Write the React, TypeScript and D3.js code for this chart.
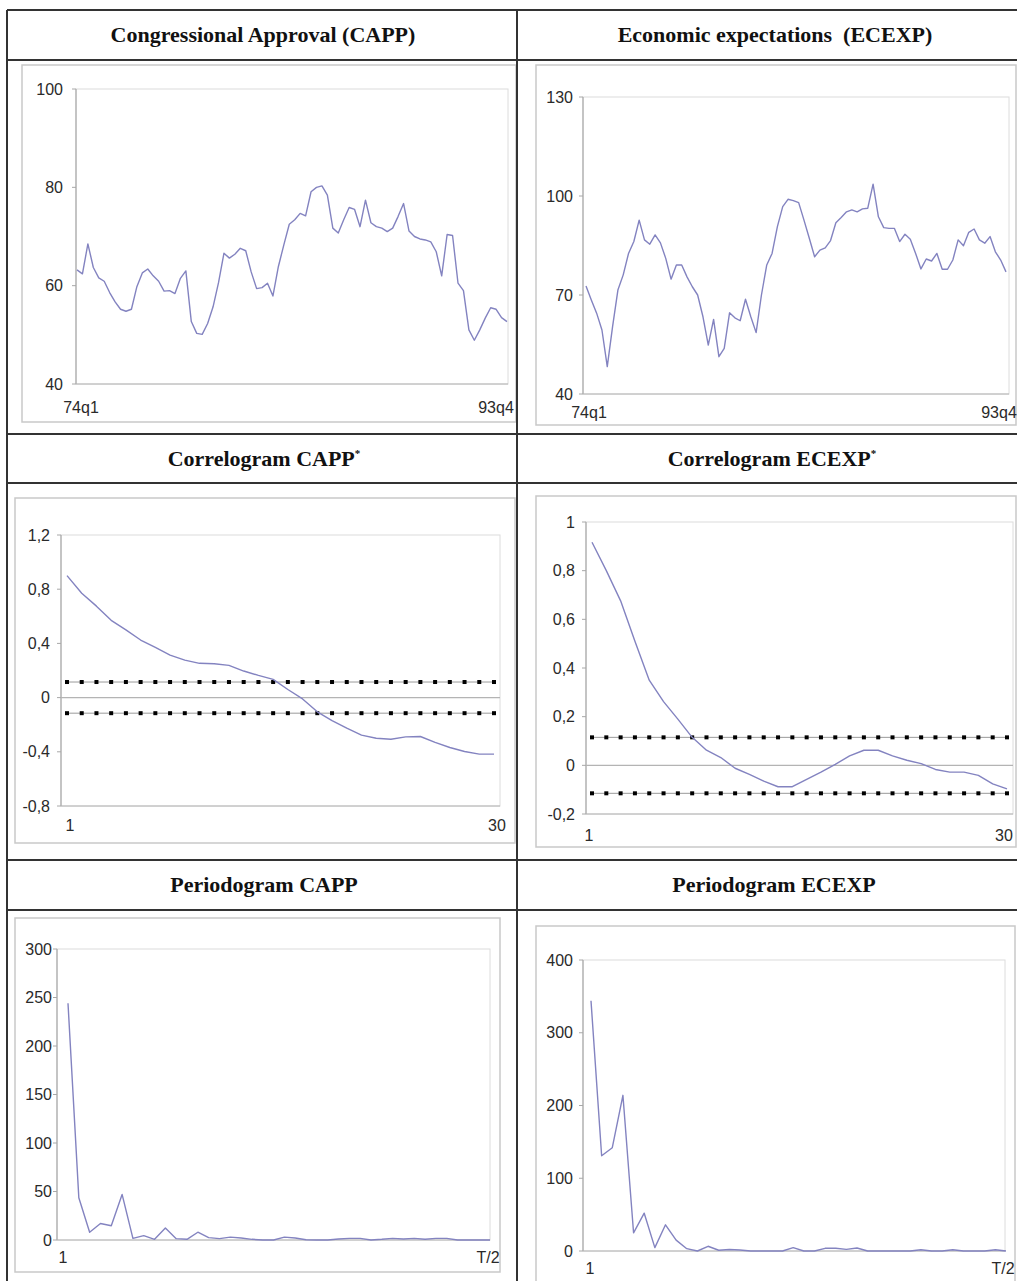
import React from "react";
import * as d3 from "d3";

// ---------- DATA ----------
const seriesXLabels = ["74q1", "93q4"];
const lagXLabels = ["1", "30"];
const freqXLabels = ["1", "T/2"];

const titleCapp = "Congressional Approval (CAPP)";
const titleEcexp = "Economic expectations  (ECEXP)";
const titleCorrCapp = "Correlogram CAPP";
const titleCorrEcexp = "Correlogram ECEXP";
const titlePerCapp = "Periodogram CAPP";
const titlePerEcexp = "Periodogram ECEXP";

const cappSeries = [
  63.2, 62.4, 68.5, 63.7, 61.6, 60.9, 58.6, 56.7, 55.2, 54.8,
  55.2, 59.8, 62.6, 63.4, 62.0, 60.9, 58.9, 59.0, 58.4, 61.5,
  63.0, 52.7, 50.3, 50.1, 52.3, 55.7, 60.6, 66.6, 65.6, 66.4,
  67.6, 67.1, 62.8, 59.4, 59.6, 60.5, 57.9, 63.9, 68.3, 72.5,
  73.4, 74.7, 74.2, 79.1, 80.0, 80.3, 78.4, 71.7, 70.7, 73.4,
  75.9, 75.5, 72.0, 77.4, 72.8, 72.0, 71.7, 71.0, 71.7, 74.1,
  76.7, 71.1, 70.0, 69.5, 69.3, 68.9, 66.9, 62.0, 70.4, 70.2,
  60.5, 59.0, 51.0, 48.9, 51.0, 53.4, 55.5, 55.2, 53.5, 52.7,
];

const ecexpSeries = [
  72.7, 68.5, 64.5, 59.4, 48.3, 60.4, 71.5, 76.1, 82.6, 86.2,
  92.7, 86.7, 85.4, 88.2, 85.8, 81.1, 74.8, 79.1, 79.1, 75.5,
  72.5, 70.0, 63.4, 54.8, 62.6, 51.3, 53.8, 64.6, 63.1, 62.2,
  68.7, 63.4, 58.6, 70.0, 79.1, 82.6, 90.7, 96.8, 99.0, 98.6,
  98.0, 92.7, 87.2, 81.6, 83.6, 84.3, 86.5, 91.9, 93.5, 95.2,
  95.8, 95.2, 96.1, 96.3, 103.6, 93.7, 90.4, 90.2, 90.2, 86.2,
  88.4, 86.9, 82.6, 77.9, 80.9, 80.3, 82.6, 77.8, 77.8, 80.6,
  86.7, 84.9, 89.0, 90.0, 86.7, 85.7, 87.7, 83.1, 80.6, 77.0,
];

const cappAcf = [
  0.9, 0.77, 0.675, 0.57, 0.5, 0.425, 0.37, 0.314, 0.277, 0.253,
  0.25, 0.238, 0.196, 0.164, 0.135, 0.06, -0.01, -0.105, -0.17, -0.226,
  -0.277, -0.3, -0.307, -0.29, -0.287, -0.331, -0.368, -0.398, -0.417, -0.417,
];

const ecexpAcf = [
  0.917, 0.8, 0.676, 0.51, 0.35, 0.262, 0.19, 0.115, 0.062, 0.032,
  -0.012, -0.037, -0.065, -0.088, -0.088, -0.058, -0.028, 0.004, 0.039, 0.062,
  0.062, 0.039, 0.021, 0.007, -0.017, -0.028, -0.028, -0.041, -0.076, -0.097,
];

const cappPeriodogram = [
  244, 43.5, 8, 17, 14.7, 47, 1.7, 4.5, 0.7, 12.3,
  1.4, 0.7, 8, 2.4, 1.4, 3, 2, 0.7, 0, 0,
  3, 2, 0.3, 0, 0, 1, 1.7, 1.7, 0, 0.7,
  1.7, 1, 1.7, 0.7, 1.7, 1.7, 0, 0, 0, 0,
];

const ecexpPeriodogram = [
  344, 131, 142, 214, 25, 52, 4.6, 36, 15, 3.2,
  0, 6.5, 1, 2, 1.4, 0, 0, 0, 0, 4.6,
  0, 0, 3.7, 3.7, 2.3, 4.1, 0, 0, 0, 0,
  0, 1.8, 0, 0, 1.8, 0, 0, 0, 1.8, 0,
];

const cappSeriesTicks = [40, 60, 80, 100];
const ecexpSeriesTicks = [40, 70, 100, 130];
const cappAcfTicks = [-0.8, -0.4, 0, 0.4, 0.8, 1.2];
const ecexpAcfTicks = [-0.2, 0, 0.2, 0.4, 0.6, 0.8, 1];
const cappPerTicks = [0, 50, 100, 150, 200, 250, 300];
const ecexpPerTicks = [0, 100, 200, 300, 400];
const acfBand = [0.115, -0.115];

// ---------- STYLE ----------
const LINE_COLOR = "#8383c0";
const LABEL_FONT = "'Liberation Sans', Arial, sans-serif";
const TITLE_FONT = "'Liberation Serif', 'Times New Roman', serif";

const locale = d3.formatLocale({
  decimal: ",",
  thousands: ".",
  grouping: [3],
  currency: ["", ""],
  minus: "-",
});
const fmtComma = locale.format("");
const fmtInt = d3.format("d");

type Cfg = {
  frame: [number, number, number, number];
  plot: { left: number; right: number; top: number; bottom: number };
  dataX: [number, number];
  yDomain: [number, number];
  ticks: number[];
  fmt: (v: number) => string;
  data: number[];
  xLabels: string[];
  xLabelPos: [number, number];
  xLabelY: number;
  labelGap: number;
  band?: number[];
  zero?: boolean;
};

function Panel({ cfg }: { cfg: Cfg }) {
  const { frame, plot, dataX, yDomain, ticks, fmt, data, xLabels, xLabelPos, xLabelY, labelGap, band, zero } = cfg;
  const y = d3.scaleLinear().domain(yDomain).range([plot.bottom, plot.top]);
  const x = d3.scaleLinear().domain([0, data.length - 1]).range(dataX);
  const line = d3
    .line<number>()
    .x((_, i) => x(i))
    .y((d) => y(d));
  return (
    <g>
      <rect
        x={frame[0]}
        y={frame[1]}
        width={frame[2] - frame[0]}
        height={frame[3] - frame[1]}
        fill="#fff"
        stroke="#c9c9c9"
        strokeWidth={1.5}
      />
      <rect
        x={plot.left}
        y={plot.top}
        width={plot.right - plot.left}
        height={plot.bottom - plot.top}
        fill="none"
        stroke="#dcdcdc"
        strokeWidth={1}
      />
      <line x1={plot.left} x2={plot.left} y1={plot.top} y2={plot.bottom} stroke="#a8a8a8" strokeWidth={1.2} />
      <line x1={plot.left} x2={plot.right} y1={plot.bottom} y2={plot.bottom} stroke="#b4b4b4" strokeWidth={1.2} />
      {zero && (
        <line x1={plot.left} x2={plot.right} y1={y(0)} y2={y(0)} stroke="#b4b4b4" strokeWidth={1.2} />
      )}
      {ticks.map((t) => (
        <g key={t}>
          <line x1={plot.left - 4} x2={plot.left} y1={y(t)} y2={y(t)} stroke="#a8a8a8" strokeWidth={1} />
          <text
            x={plot.left - labelGap}
            y={y(t)}
            dy="0.35em"
            textAnchor="end"
            fontFamily={LABEL_FONT}
            fontSize={16}
            fill="#2a2a2a"
          >
            {fmt(t)}
          </text>
        </g>
      ))}
      {band &&
        band.map((b) => (
          <g key={"b" + b}>
            <line x1={x(0)} x2={x(data.length - 1)} y1={y(b)} y2={y(b)} stroke="#9a9a9a" strokeWidth={1} />
            {data.map((_, i) => (
              <rect key={i} x={x(i) - 2} y={y(b) - 2} width={4} height={4} fill="#000" />
            ))}
          </g>
        ))}
      <path d={line(data) || ""} fill="none" stroke={LINE_COLOR} strokeWidth={1.4} strokeLinejoin="round" />
      <text x={xLabelPos[0]} y={xLabelY} dy="0.35em" textAnchor="middle" fontFamily={LABEL_FONT} fontSize={16} fill="#2a2a2a">
        {xLabels[0]}
      </text>
      <text x={xLabelPos[1]} y={xLabelY} dy="0.35em" textAnchor="middle" fontFamily={LABEL_FONT} fontSize={16} fill="#2a2a2a">
        {xLabels[1]}
      </text>
    </g>
  );
}

function Title({ x, y, text, star }: { x: number; y: number; text: string; star?: boolean }) {
  return (
    <text
      x={x}
      y={y}
      dy="0.35em"
      textAnchor="middle"
      fontFamily={TITLE_FONT}
      fontWeight="bold"
      fontSize={22}
      fill="#111"
      style={{ whiteSpace: "pre" }}
    >
      {text}
      {star && (
        <tspan fontSize={11} dy="-9">
          *
        </tspan>
      )}
    </text>
  );
}

export default function App() {
  const W = 1017;
  const H = 1281;

  const panels: Cfg[] = [
    {
      frame: [22, 65, 516, 422],
      plot: { left: 76, right: 508, top: 89, bottom: 384 },
      dataX: [77, 507],
      yDomain: [40, 100],
      ticks: cappSeriesTicks,
      fmt: fmtInt,
      data: cappSeries,
      xLabels: seriesXLabels,
      xLabelPos: [81, 496],
      xLabelY: 407,
      labelGap: 13,
    },
    {
      frame: [536, 65, 1016, 425],
      plot: { left: 583, right: 1009, top: 97, bottom: 394 },
      dataX: [586, 1006],
      yDomain: [40, 130],
      ticks: ecexpSeriesTicks,
      fmt: fmtInt,
      data: ecexpSeries,
      xLabels: seriesXLabels,
      xLabelPos: [589, 999],
      xLabelY: 412,
      labelGap: 10,
    },
    {
      frame: [15, 498, 515, 843],
      plot: { left: 61, right: 500, top: 535, bottom: 806 },
      dataX: [67, 494],
      yDomain: [-0.8, 1.2],
      ticks: cappAcfTicks,
      fmt: (v) => fmtComma(v),
      data: cappAcf,
      xLabels: lagXLabels,
      xLabelPos: [70, 497],
      xLabelY: 825,
      labelGap: 11,
      band: acfBand,
      zero: true,
    },
    {
      frame: [536, 496, 1016, 847],
      plot: { left: 586, right: 1013, top: 522, bottom: 814 },
      dataX: [592, 1007],
      yDomain: [-0.2, 1],
      ticks: ecexpAcfTicks,
      fmt: (v) => fmtComma(v),
      data: ecexpAcf,
      xLabels: lagXLabels,
      xLabelPos: [589, 1004],
      xLabelY: 835,
      labelGap: 11,
      band: acfBand,
      zero: true,
    },
    {
      frame: [15, 918, 500, 1272],
      plot: { left: 57, right: 490, top: 949, bottom: 1240 },
      dataX: [68, 490],
      yDomain: [0, 300],
      ticks: cappPerTicks,
      fmt: fmtInt,
      data: cappPeriodogram,
      xLabels: freqXLabels,
      xLabelPos: [63, 488],
      xLabelY: 1257,
      labelGap: 5,
    },
    {
      frame: [536, 926, 1015, 1295],
      plot: { left: 583, right: 1005, top: 960, bottom: 1251 },
      dataX: [591, 1006],
      yDomain: [0, 400],
      ticks: ecexpPerTicks,
      fmt: fmtInt,
      data: ecexpPeriodogram,
      xLabels: freqXLabels,
      xLabelPos: [590, 1003],
      xLabelY: 1268,
      labelGap: 10,
    },
  ];

  const hLines = [10, 60, 434, 483, 860, 910];

  return (
    <svg
      width={W}
      height={H}
      viewBox={`0 0 ${W} ${H}`}
      style={{ position: "absolute", left: 0, top: 0, background: "#fff" }}
    >
      <rect x={0} y={0} width={W} height={H} fill="#fff" />
      {panels.map((p, i) => (
        <Panel key={i} cfg={p} />
      ))}
      {hLines.map((yy) => (
        <line key={yy} x1={7} x2={W} y1={yy} y2={yy} stroke="#333" strokeWidth={2} />
      ))}
      <line x1={7} x2={7} y1={10} y2={H} stroke="#333" strokeWidth={2} />
      <line x1={517} x2={517} y1={10} y2={H} stroke="#333" strokeWidth={2} />
      <Title x={263} y={34} text={titleCapp} />
      <Title x={775} y={34} text={titleEcexp} />
      <Title x={264} y={458} text={titleCorrCapp} star />
      <Title x={772} y={458} text={titleCorrEcexp} star />
      <Title x={264} y={884} text={titlePerCapp} />
      <Title x={774} y={884} text={titlePerEcexp} />
    </svg>
  );
}
